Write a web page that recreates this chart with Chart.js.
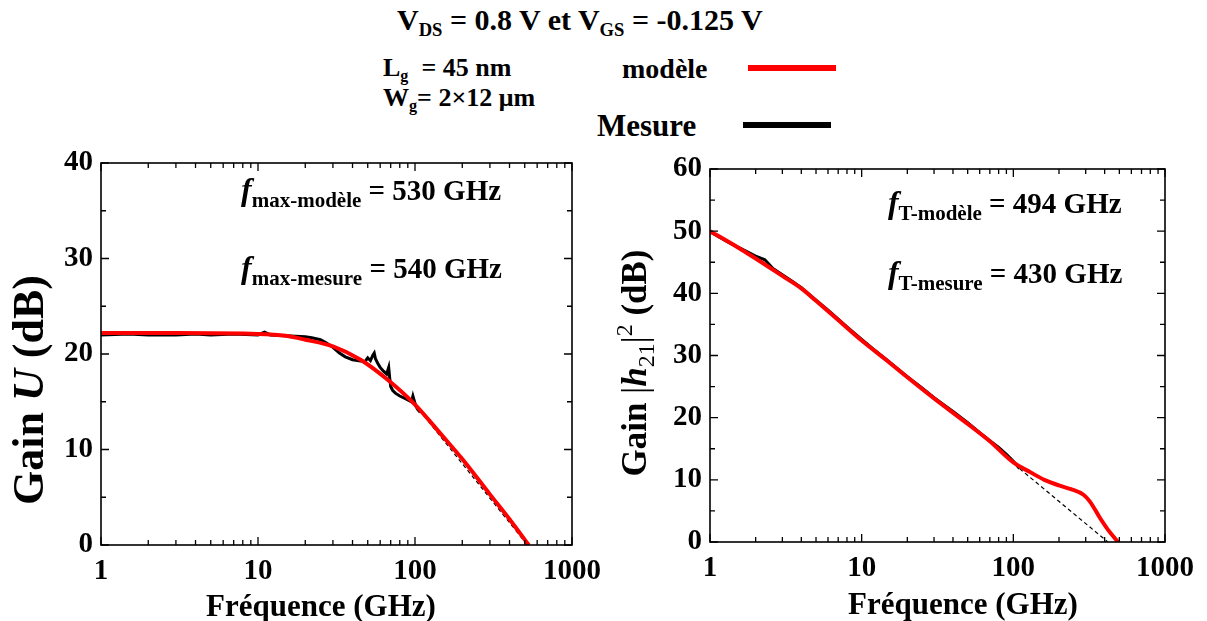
<!DOCTYPE html>
<html>
<head>
<meta charset="utf-8">
<script src="https://cdn.jsdelivr.net/npm/chart.js@4.4.1/dist/chart.umd.min.js"></script>
<style>
  body { margin: 0; background: #fff; width: 1207px; height: 621px; overflow: hidden; position: relative; }
  .t { position: absolute; font-family: 'Liberation Serif', 'Times New Roman', serif; font-weight: bold; color: #000; white-space: nowrap; line-height: 1; }
  .t sub { font-size: 0.62em; vertical-align: -0.3em; }
  .key { position: absolute; height: 6px; }
  canvas { position: absolute; top: 130px; }
</style>
</head>
<body>
<div class="t" style="left:397px;top:5px;font-size:30px">V<sub>DS</sub> = 0.8 V et V<sub>GS</sub> = -0.125 V</div>
<div class="t" style="left:383px;top:55px;font-size:26px">L<sub>g</sub> &nbsp;= 45 nm</div>
<div class="t" style="left:383px;top:85px;font-size:26px">W<sub>g</sub>= 2×12 μm</div>
<div class="t" style="left:622px;top:55px;font-size:28px">modèle</div>
<div class="t" style="left:597px;top:110px;font-size:31px">Mesure</div>
<div class="key" style="left:748px;top:65px;width:88px;background:#ff0000"></div>
<div class="key" style="left:743px;top:122px;width:88px;background:#000"></div>

<canvas id="gainU" width="610" height="491" style="left:0"></canvas>
<canvas id="gainH" width="597" height="491" style="left:610px"></canvas>

<script>
// Gain U (dB) vs fréquence (GHz)
const fUModele = [1, 3, 10, 15, 20, 30, 45, 67, 100, 150, 200, 300, 400, 530];
const uModele  = [22.2, 22.2, 22.1, 21.9, 21.5, 20.8, 19.4, 17.3, 14.7, 11.4, 9.0, 5.3, 2.7, 0];
const fUMesure = [1, 1.5, 2, 3, 4, 5, 7, 10, 11, 12, 15, 20, 22, 25, 27, 30, 33, 36, 40, 44, 48, 50, 52, 54, 55, 56, 58, 60, 63, 66, 68, 69, 70, 72, 75, 80, 85, 90, 95, 97, 99, 101, 104, 108];
const uMesure  = [22.0, 22.1, 22.0, 22.0, 22.1, 22.0, 22.1, 22.0, 22.3, 22.0, 21.9, 21.8, 21.7, 21.5, 21.2, 20.7, 20.1, 19.7, 19.4, 19.3, 19.2, 19.6, 19.3, 19.9, 20.1, 19.5, 19.0, 18.6, 18.2, 17.9, 18.6, 17.5, 16.6, 16.2, 15.9, 15.6, 15.4, 15.2, 15.0, 15.6, 15.1, 14.6, 14.2, 13.9];
const fUAsym = [100, 520];
const uAsym  = [14.7, 0];

// Gain |h21|^2 (dB)
const fHModele = [1, 1.5, 2, 3, 4, 5, 7, 10, 15, 20, 30, 50, 70, 100, 130, 160, 200, 240, 290, 320, 372, 420, 490];
const hModele  = [50.0, 47.5, 45.6, 42.8, 40.8, 38.8, 35.7, 32.4, 29.0, 26.5, 23.1, 19.0, 16.2, 12.8, 11.2, 10.0, 9.1, 8.5, 7.6, 6.5, 3.9, 2.0, 0];
const fHMesure = [1, 1.3, 1.6, 2, 2.3, 2.6, 3, 3.5, 4, 5, 6, 8, 10, 12, 15, 20, 25, 30, 40, 50, 60, 70, 80, 90, 100, 110];
const hMesure  = [49.9, 48.3, 47.2, 46.0, 45.4, 44.0, 43.0, 41.9, 40.9, 38.9, 37.3, 34.6, 32.6, 31.0, 29.1, 26.6, 24.8, 23.2, 21.0, 19.2, 17.6, 16.3, 15.2, 14.1, 13.0, 11.8];
const fHAsym = [110, 420];
const hAsym  = [11.8, 0];

const xTicks = [1, 10, 100, 1000];
const FONT = "'Liberation Serif', 'Times New Roman', serif";

const pts = (xs, ys) => xs.map((x, i) => ({ x: x, y: ys[i] }));

// draw a run of text pieces, optionally rotated, centred on (x, y)
function richText(ctx, parts, x, y, rotate) {
  ctx.save();
  ctx.translate(x, y);
  if (rotate) ctx.rotate(-Math.PI / 2);
  ctx.textBaseline = 'alphabetic';
  ctx.fillStyle = '#000';
  let w = 0;
  parts.forEach(p => { ctx.font = p.font; w += ctx.measureText(p.t).width; });
  let cx = -w / 2;
  parts.forEach(p => {
    ctx.font = p.font;
    ctx.fillText(p.t, cx, (p.dy || 0));
    cx += ctx.measureText(p.t).width;
  });
  ctx.restore();
}

function leftText(ctx, parts, x, y) {
  ctx.save();
  ctx.textBaseline = 'alphabetic';
  ctx.fillStyle = '#000';
  let cx = x;
  parts.forEach(p => {
    ctx.font = p.font;
    ctx.fillText(p.t, cx, y + (p.dy || 0));
    cx += ctx.measureText(p.t).width;
  });
  ctx.restore();
}

// frame + inward ticks on the four sides, titles and annotations
const framePlugin = {
  id: 'frame',
  afterDraw(chart, args, opts) {
    const { ctx, chartArea: a, scales: { x, y } } = chart;
    ctx.save();
    ctx.strokeStyle = '#000';
    ctx.lineWidth = 1.6;
    ctx.strokeRect(a.left, a.top, a.right - a.left, a.bottom - a.top);
    ctx.lineWidth = 1.3;
    ctx.beginPath();
    for (let d = 1; d <= 1000; d *= 10) {
      for (let m = 1; m <= 9; m++) {
        const v = d * m;
        if (v > 1000) break;
        const px = x.getPixelForValue(v);
        const len = m === 1 ? 8 : 5;
        ctx.moveTo(px, a.bottom); ctx.lineTo(px, a.bottom - len);
        ctx.moveTo(px, a.top); ctx.lineTo(px, a.top + len);
      }
    }
    for (let v = y.min; v <= y.max; v += 5) {
      const py = y.getPixelForValue(v);
      const len = v % 10 === 0 ? 8 : 5;
      ctx.moveTo(a.left, py); ctx.lineTo(a.left + len, py);
      ctx.moveTo(a.right, py); ctx.lineTo(a.right - len, py);
    }
    ctx.stroke();
    ctx.restore();

    richText(ctx, opts.yTitle, opts.yTitlePos[0], opts.yTitlePos[1], true);
    richText(ctx, opts.xTitle, opts.xTitlePos[0], opts.xTitlePos[1], false);
    opts.notes.forEach(n => leftText(ctx, n.parts, x.getPixelForValue(n.x), y.getPixelForValue(n.y)));
  }
};

function note(sub, val) {
  return [
    { t: 'f', font: `italic bold 32px ${FONT}` },
    { t: sub, font: `bold 21px ${FONT}`, dy: 7 },
    { t: ' = ' + val, font: `bold 29px ${FONT}` }
  ];
}

const xTitle = [{ t: 'Fréquence (GHz)', font: `bold 31px ${FONT}` }];

function makeChart(id, series, yMax, pad, yWidth, xHeight, plug) {
  return new Chart(document.getElementById(id), {
    type: 'line',
    data: {
      datasets: [
        { data: series[0], borderColor: '#ff0000', borderWidth: 4, cubicInterpolationMode: 'monotone' },
        { data: series[1], borderColor: '#000', borderWidth: 3 },
        { data: series[2], borderColor: '#000', borderWidth: 1.2, borderDash: [4, 3] }
      ]
    },
    options: {
      responsive: false,
      animation: false,
      layout: { padding: pad },
      elements: { point: { radius: 0 } },
      plugins: { legend: { display: false }, tooltip: { enabled: false }, frame: plug },
      scales: {
        x: {
          type: 'logarithmic', min: 1, max: 1000,
          grid: { display: false, drawTicks: false }, border: { display: false },
          afterBuildTicks: s => { s.ticks = xTicks.map(v => ({ value: v })); },
          afterFit: s => { s.height = xHeight; },
          ticks: { callback: v => String(v), color: '#000', padding: 9, maxRotation: 0, autoSkip: false,
                   font: { family: FONT, size: 29, weight: 'bold' } }
        },
        y: {
          min: 0, max: yMax,
          grid: { display: false, drawTicks: false }, border: { display: false },
          afterFit: s => { s.width = yWidth; },
          ticks: { stepSize: 10, color: '#000', padding: 8,
                   font: { family: FONT, size: 29, weight: 'bold' } }
        }
      }
    },
    plugins: [framePlugin]
  });
}

makeChart('gainU',
  [pts(fUModele, uModele), pts(fUMesure, uMesure), pts(fUAsym, uAsym)],
  40, { top: 33, right: 34, left: 0, bottom: 0 }, 101, 76,
  {
    yTitle: [
      { t: 'Gain ', font: `bold 44px ${FONT}` },
      { t: 'U', font: `italic bold 44px ${FONT}` },
      { t: ' (dB)', font: `bold 44px ${FONT}` }
    ],
    yTitlePos: [43, 260],
    xTitle: xTitle, xTitlePos: [321, 486],
    notes: [
      { x: 7.8, y: 36.1, parts: note('max-modèle', '530 GHz') },
      { x: 7.8, y: 28.0, parts: note('max-mesure', '540 GHz') }
    ]
  });

makeChart('gainH',
  [pts(fHModele, hModele), pts(fHMesure, hMesure), pts(fHAsym, hAsym)],
  60, { top: 39, right: 42, left: 0, bottom: 0 }, 100, 79,
  {
    yTitle: [
      { t: 'Gain ', font: `bold 35px ${FONT}` },
      { t: '|', font: `35px ${FONT}` },
      { t: 'h', font: `italic bold 35px ${FONT}` },
      { t: '21', font: `24px ${FONT}`, dy: 8 },
      { t: '|', font: `35px ${FONT}` },
      { t: '2', font: `24px ${FONT}`, dy: -14 },
      { t: ' (dB)', font: `bold 35px ${FONT}` }
    ],
    yTitlePos: [36, 233],
    xTitle: xTitle, xTitlePos: [353, 484],
    notes: [
      { x: 14.9, y: 52.9, parts: note('T-modèle', '494 GHz') },
      { x: 14.9, y: 41.6, parts: note('T-mesure', '430 GHz') }
    ]
  });
</script>
</body>
</html>
